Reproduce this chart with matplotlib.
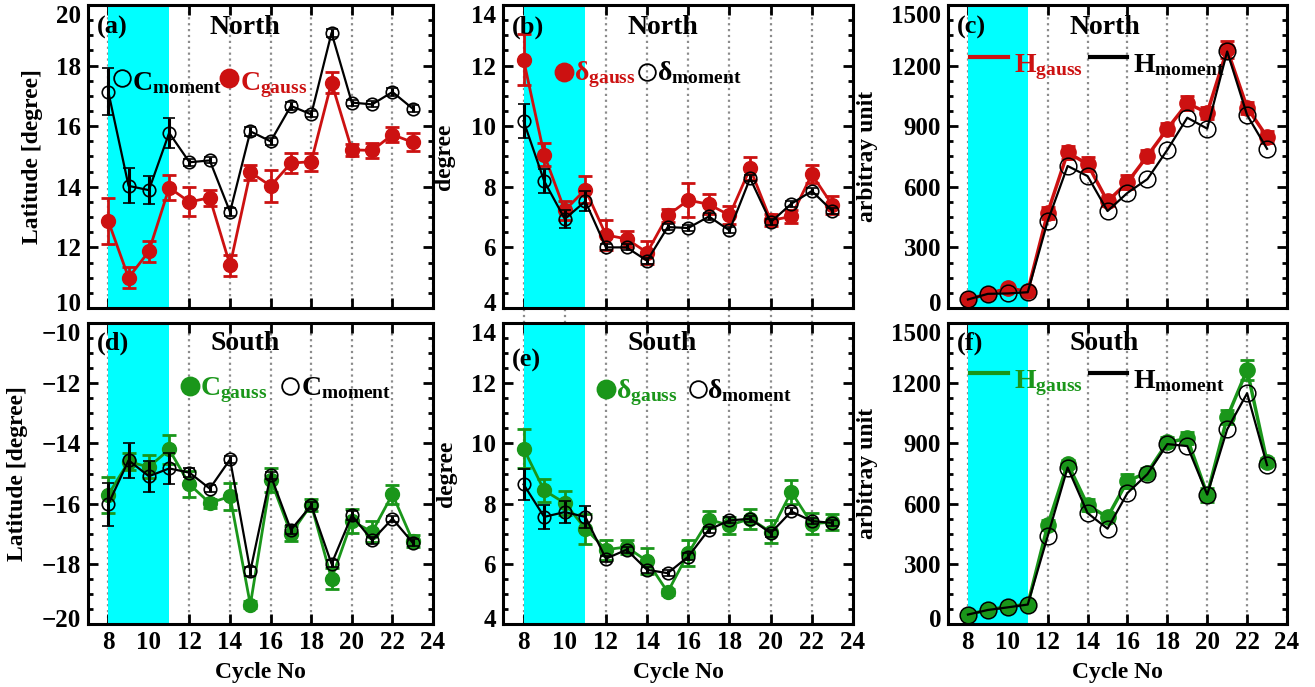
import matplotlib
matplotlib.use('Agg')
import matplotlib.pyplot as plt
import matplotlib.transforms as mtransforms
from matplotlib.ticker import MultipleLocator, AutoMinorLocator
import numpy as np

plt.rcParams['font.family'] = ['Liberation Serif', 'DejaVu Serif']
plt.rcParams['font.weight'] = 'bold'
plt.rcParams['mathtext.fontset'] = 'custom'
plt.rcParams['mathtext.rm'] = 'Liberation Serif'
plt.rcParams['mathtext.bf'] = 'Liberation Serif:bold'
plt.rcParams['mathtext.it'] = 'Liberation Serif:italic'

cycles = np.arange(8, 24)

# (a) North centroid latitude
cn_gauss = [12.87, 11.0, 11.87, 13.97, 13.5, 13.64, 11.41, 14.48, 14.03, 14.78, 14.83, 17.44, 15.22, 15.2, 15.72, 15.47]
cn_gauss_err = [0.75, 0.35, 0.35, 0.42, 0.48, 0.27, 0.35, 0.25, 0.54, 0.32, 0.3, 0.36, 0.2, 0.25, 0.25, 0.3]
cn_mom = [17.14, 14.03, 13.89, 15.78, 14.81, 14.87, 13.17, 15.83, 15.5, 16.67, 16.39, 19.08, 16.78, 16.72, 17.13, 16.58]
cn_mom_err = [0.78, 0.58, 0.45, 0.49, 0.12, 0.1, 0.12, 0.14, 0.12, 0.12, 0.1, 0.12, 0.1, 0.1, 0.12, 0.12]

# (b) North width
dn_gauss = [12.19, 9.06, 7.22, 7.91, 6.41, 6.28, 5.83, 7.06, 7.56, 7.42, 7.06, 8.61, 6.89, 7.02, 8.41, 7.39]
dn_gauss_err = [0.84, 0.39, 0.3, 0.45, 0.48, 0.27, 0.37, 0.22, 0.56, 0.33, 0.3, 0.38, 0.2, 0.22, 0.3, 0.3]
dn_mom = [10.17, 8.19, 6.94, 7.52, 6.0, 6.0, 5.56, 6.67, 6.64, 7.02, 6.56, 8.28, 6.83, 7.44, 7.86, 7.2]
dn_mom_err = [0.55, 0.4, 0.3, 0.33, 0.1, 0.1, 0.1, 0.1, 0.1, 0.1, 0.1, 0.1, 0.1, 0.1, 0.1, 0.1]

# (c) North height
hn_gauss = [42, 70, 97, 83, 472, 770, 712, 528, 622, 753, 887, 1013, 967, 1280, 992, 847]
hn_gauss_err = [8, 10, 12, 10, 30, 30, 35, 25, 35, 30, 30, 35, 30, 40, 30, 30]
hn_mom = [42, 70, 72, 78, 430, 703, 653, 480, 570, 638, 783, 942, 888, 1270, 955, 788]

# (d) South centroid latitude
cs_gauss = [-15.7, -14.61, -14.78, -14.2, -15.36, -15.98, -15.76, -19.36, -15.2, -17.0, -16.03, -18.5, -16.58, -16.94, -15.69, -17.24]
cs_gauss_err = [0.6, 0.28, 0.38, 0.47, 0.43, 0.15, 0.45, 0.12, 0.4, 0.25, 0.2, 0.35, 0.4, 0.35, 0.32, 0.2]
cs_mom = [-16.02, -14.56, -15.09, -14.83, -14.97, -15.5, -14.53, -18.24, -15.06, -16.87, -16.06, -18.0, -16.39, -17.22, -16.5, -17.3]
cs_mom_err = [0.72, 0.58, 0.52, 0.52, 0.15, 0.12, 0.12, 0.15, 0.12, 0.15, 0.12, 0.12, 0.15, 0.12, 0.1, 0.12]

# (e) South width
ds_gauss = [9.83, 8.44, 8.02, 7.17, 6.47, 6.56, 6.09, 5.06, 6.36, 7.47, 7.28, 7.5, 7.06, 8.39, 7.33, 7.39]
ds_gauss_err = [0.65, 0.39, 0.4, 0.5, 0.33, 0.22, 0.42, 0.1, 0.42, 0.29, 0.28, 0.33, 0.38, 0.4, 0.35, 0.28]
ds_mom = [8.64, 7.56, 7.72, 7.56, 6.17, 6.47, 5.8, 5.69, 6.24, 7.14, 7.44, 7.5, 7.02, 7.74, 7.42, 7.36]
ds_mom_err = [0.52, 0.39, 0.37, 0.37, 0.1, 0.1, 0.1, 0.1, 0.12, 0.1, 0.1, 0.1, 0.12, 0.1, 0.1, 0.1]

# (f) South height
hs_gauss = [47, 70, 87, 97, 492, 800, 592, 533, 713, 755, 905, 925, 645, 1030, 1267, 808]
hs_gauss_err = [8, 10, 10, 10, 25, 20, 30, 20, 35, 25, 25, 30, 35, 35, 50, 20]
hs_mom = [47, 70, 83, 97, 438, 780, 553, 475, 653, 747, 897, 887, 645, 970, 1150, 792]

RED = '#CC1111'
GREEN = '#1A961A'

fig = plt.figure(figsize=(13.15, 6.87), dpi=100)
W = [0.2624, 0.2662, 0.2578]
L = [0.0669, 0.3825, 0.7209]
axes = {}
for r, (bot, h) in enumerate([(0.5517, 0.441), (0.0917, 0.438)]):
    for c in range(3):
        axes[(r, c)] = fig.add_axes([L[c], bot, W[c], h])


def style(ax, ylim, ymajor, bottom_labels):
    ax.set_xlim(7, 24)
    ax.set_ylim(*ylim)
    ax.axvspan(8, 11, color='#00FFFF', zorder=1, lw=0)
    ax.set_axisbelow(True)
    ax.grid(axis='x', linestyle=':', color='0.55', linewidth=1.6)
    ax.xaxis.set_major_locator(MultipleLocator(2))
    ax.yaxis.set_major_locator(MultipleLocator(ymajor))
    ax.yaxis.set_minor_locator(AutoMinorLocator(4))
    ax.tick_params(which='both', direction='in', top=True, right=True, width=2,
                   labelsize=18)
    ax.tick_params(which='major', length=7, pad=5)
    ax.tick_params(which='minor', length=3.5)
    ax.tick_params(axis='x', which='minor', bottom=False, top=False)
    for s in ax.spines.values():
        s.set_linewidth(2.2)
        s.set_zorder(10)
    if bottom_labels:
        ax.set_xlabel('Cycle No', fontsize=17, fontweight='bold')
        ax.xaxis.set_label_coords(0.5, -0.125)
    else:
        ax.tick_params(axis='x', labelbottom=False)


def errplot(ax, y, e, color, filled):
    if filled:
        ax.errorbar(cycles, y, yerr=e, color=color, lw=2, marker='o', ms=10,
                    mfc=color, mec=color, elinewidth=2, capsize=5, capthick=2, zorder=3)
    else:
        ax.errorbar(cycles, y, yerr=e, color=color, lw=1.6, marker='o', ms=9,
                    mfc='none', mec=color, mew=1.2, elinewidth=2.2, capsize=4,
                    capthick=2.2, zorder=4)


def key_marker(ax, x, y, color, filled):
    ax.plot([x], [y], 'o', transform=ax.transAxes, ms=13 if filled else 12,
            mfc=color if filled else 'none', mec=color, mew=1.3, clip_on=False, zorder=6)


def key_line(ax, x0, x1, y, color):
    ax.plot([x0, x1], [y, y], '-', transform=ax.transAxes, color=color, lw=3,
            clip_on=False, zorder=6)


def key_text(ax, x, y, s, color):
    ax.text(x, y, s, transform=ax.transAxes, color=color, fontsize=20,
            ha='left', va='baseline', zorder=6)


def head(ax, tag, tag_y, title, title_x, title_y):
    ax.text(0.025, tag_y, tag, transform=ax.transAxes, fontsize=19,
            fontweight='bold', ha='left', va='center', zorder=6)
    ax.text(title_x, title_y, title, transform=ax.transAxes, fontsize=20,
            fontweight='bold', ha='center', va='center', zorder=6)


# (a)
ax = axes[(0, 0)]
style(ax, (10, 20), 2, False)
errplot(ax, cn_gauss, cn_gauss_err, RED, True)
errplot(ax, cn_mom, cn_mom_err, 'black', False)
ax.set_ylabel('Latitude [degree]', fontsize=17, fontweight='bold')
ax.yaxis.set_label_coords(-0.13, 0.5)
head(ax, '(a)', 0.927, 'North', 0.455, 0.927)
key_marker(ax, 0.099, 0.759, 'black', False)
key_text(ax, 0.128, 0.72, r'$\mathbf{C}_{\mathbf{moment}}$', 'black')
key_marker(ax, 0.409, 0.759, RED, True)
key_text(ax, 0.44, 0.72, r'$\mathbf{C}_{\mathbf{gauss}}$', RED)

# (b)
ax = axes[(0, 1)]
style(ax, (4, 14), 2, False)
errplot(ax, dn_gauss, dn_gauss_err, RED, True)
errplot(ax, dn_mom, dn_mom_err, 'black', False)
ax.set_ylabel('degree', fontsize=17, fontweight='bold')
ax.yaxis.set_label_coords(-0.137, 0.5)
head(ax, '(b)', 0.927, 'North', 0.457, 0.927)
key_marker(ax, 0.174, 0.779, RED, True)
key_text(ax, 0.203, 0.752, r'$\mathrm{δ}_{\mathbf{gauss}}$', RED)
key_marker(ax, 0.411, 0.779, 'black', False)
key_text(ax, 0.44, 0.752, r'$\mathrm{δ}_{\mathbf{moment}}$', 'black')
# the dotted grid of this panel runs on through the gap to (e)
gap = mtransforms.blended_transform_factory(ax.transData, ax.transAxes)
for xg in range(8, 24, 2):
    ax.plot([xg, xg], [-0.05, 0], transform=gap, linestyle=':', color='0.55',
            lw=1.6, clip_on=False, zorder=0)

# (c)
ax = axes[(0, 2)]
style(ax, (0, 1500), 300, False)
ax.errorbar(cycles, hn_gauss, yerr=hn_gauss_err, color=RED, lw=2.5, marker='o', ms=11,
            mfc=RED, mec=RED, elinewidth=2, capsize=5, capthick=2, zorder=3)
ax.plot(cycles, hn_mom, color='black', lw=1.6, marker='o', ms=12, mfc='none',
        mec='black', mew=1.1, zorder=4)
ax.set_ylabel('arbitray unit', fontsize=17, fontweight='bold')
ax.yaxis.set_label_coords(-0.206, 0.5)
head(ax, '(c)', 0.927, 'North', 0.463, 0.927)
key_line(ax, 0.065, 0.177, 0.828, RED)
key_text(ax, 0.195, 0.779, r'$\mathbf{H}_{\mathbf{gauss}}$', RED)
key_line(ax, 0.419, 0.528, 0.828, 'black')
key_text(ax, 0.547, 0.779, r'$\mathbf{H}_{\mathbf{moment}}$', 'black')

# (d)
ax = axes[(1, 0)]
style(ax, (-20, -10), 2, True)
errplot(ax, cs_gauss, cs_gauss_err, GREEN, True)
errplot(ax, cs_mom, cs_mom_err, 'black', False)
ax.set_ylabel('Latitude [degree]', fontsize=17, fontweight='bold')
ax.yaxis.set_label_coords(-0.174, 0.5)
head(ax, '(d)', 0.933, 'South', 0.455, 0.933)
key_marker(ax, 0.296, 0.791, GREEN, True)
key_text(ax, 0.325, 0.761, r'$\mathbf{C}_{\mathbf{gauss}}$', GREEN)
key_marker(ax, 0.586, 0.791, 'black', False)
key_text(ax, 0.618, 0.761, r'$\mathbf{C}_{\mathbf{moment}}$', 'black')

# (e)
ax = axes[(1, 1)]
style(ax, (4, 14), 2, True)
errplot(ax, ds_gauss, ds_gauss_err, GREEN, True)
errplot(ax, ds_mom, ds_mom_err, 'black', False)
ax.set_ylabel('degree', fontsize=17, fontweight='bold')
ax.yaxis.set_label_coords(-0.131, 0.5)
head(ax, '(e)', 0.877, 'South', 0.454, 0.933)
key_marker(ax, 0.294, 0.781, GREEN, True)
key_text(ax, 0.324, 0.751, r'$\mathrm{δ}_{\mathbf{gauss}}$', GREEN)
key_marker(ax, 0.557, 0.781, 'black', False)
key_text(ax, 0.584, 0.751, r'$\mathrm{δ}_{\mathbf{moment}}$', 'black')

# (f)
ax = axes[(1, 2)]
style(ax, (0, 1500), 300, True)
ax.errorbar(cycles, hs_gauss, yerr=hs_gauss_err, color=GREEN, lw=2.5, marker='o', ms=11,
            mfc=GREEN, mec=GREEN, elinewidth=2, capsize=5, capthick=2, zorder=3)
ax.plot(cycles, hs_mom, color='black', lw=1.6, marker='o', ms=12, mfc='none',
        mec='black', mew=1.1, zorder=4)
ax.set_ylabel('arbitray unit', fontsize=17, fontweight='bold')
ax.yaxis.set_label_coords(-0.206, 0.5)
head(ax, '(f)', 0.933, 'South', 0.46, 0.933)
key_line(ax, 0.065, 0.177, 0.834, GREEN)
key_text(ax, 0.195, 0.784, r'$\mathbf{H}_{\mathbf{gauss}}$', GREEN)
key_line(ax, 0.419, 0.528, 0.834, 'black')
key_text(ax, 0.547, 0.784, r'$\mathbf{H}_{\mathbf{moment}}$', 'black')

# pull the end tick labels a little inside the axes height, as in the original
fig.canvas.draw()
up = mtransforms.ScaledTranslation(0, 6 / 100, fig.dpi_scale_trans)
for ax in axes.values():
    lo, hi = ax.get_ylim()
    for t in ax.yaxis.get_major_ticks():
        v = t.get_loc()
        if abs(v - hi) < 1e-9:
            t.label1.set_va('top')
        elif abs(v - lo) < 1e-9:
            t.label1.set_transform(t.label1.get_transform() + up)

fig.savefig('out.png', dpi=100)
